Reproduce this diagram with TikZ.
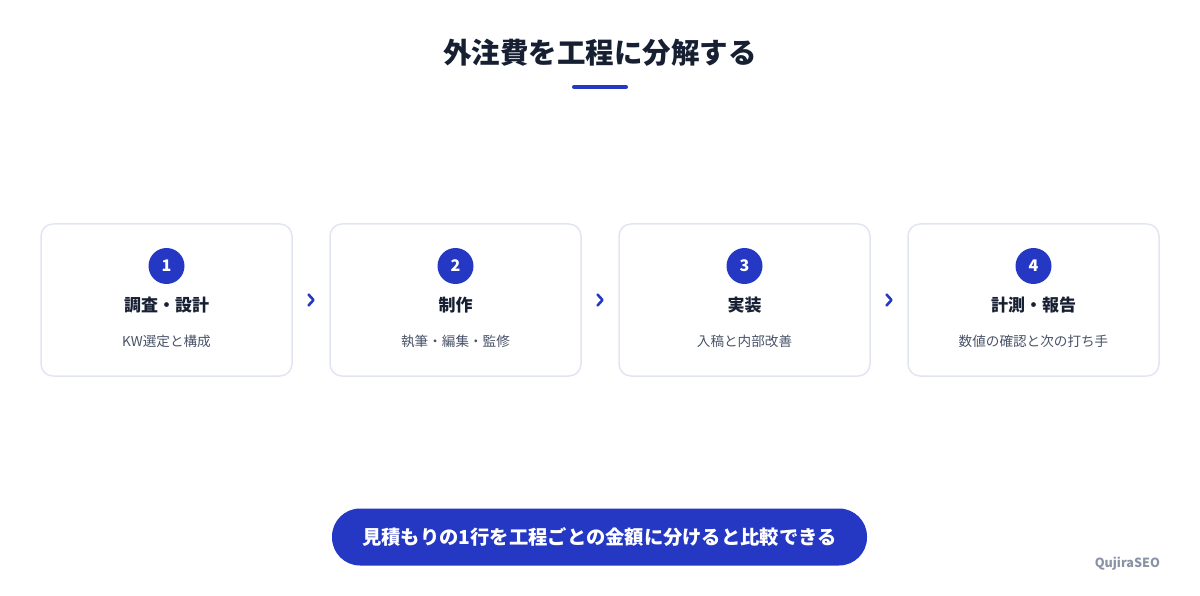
\documentclass[tikz,border=0pt]{standalone}
\usepackage{fontspec}
\setmainfont{Noto Sans CJK JP}
\usetikzlibrary{positioning,calc}
\definecolor{accent}{HTML}{2538C4}
\definecolor{ink}{HTML}{172033}
\definecolor{frame}{HTML}{E2E5F2}
\definecolor{muted}{HTML}{4A5468}
\definecolor{brand}{HTML}{8A93A6}
\tikzset{
  stagebox/.style={draw=frame, line width=1.5pt, rounded corners=12pt, fill=white,
    minimum width=251pt, minimum height=152pt, inner sep=0pt},
  badge/.style={circle, fill=accent, minimum size=36pt, inner sep=0pt,
    text=white, font=\bfseries\fontsize{16}{16}\selectfont},
  stagetitle/.style={text=ink, font=\bfseries\fontsize{17}{17}\selectfont},
  stagenote/.style={text=muted, font=\fontsize{13.6}{13.6}\selectfont},
  chevron/.style={draw=accent, line width=2.6pt, line cap=round, line join=round},
}
\begin{document}
\begin{tikzpicture}[x=1pt, y=-1pt]
\useasboundingbox (0,0) rectangle (1200,596);
% heading
\node[text=ink, font=\bfseries\fontsize{28.5}{28.5}\selectfont] (head) at (600,53) {外注費を工程に分解する};
\draw[accent, line width=4pt, line cap=round] (574,87) -- (626,87);
% stages
\foreach \i/\x/\ttl/\note in {1/166.5/調査・設計/KW選定と構成, 2/455.5/制作/執筆・編集・監修,
                               3/744.5/実装/入稿と内部改善, 4/1033.5/計測・報告/数値の確認と次の打ち手}{
  \node[stagebox] (s\i) at (\x,300) {};
  \node[badge] (b\i) at (\x,266) {\i};
  \node[stagetitle] (t\i) at (\x,305) {\ttl};
  \node[stagenote] (n\i) at (\x,341) {\note};
}
% arrows between stages
\foreach \a/\b in {1/2, 2/3, 3/4}{
  \coordinate (m\a) at ($(s\a.east)!0.5!(s\b.west)$);
  \draw[chevron] ($(m\a)+(-2.5,-5.5)$) -- ($(m\a)+(2.5,0)$) -- ($(m\a)+(-2.5,5.5)$);
}
% summary
\node[fill=accent, rounded corners=28pt, minimum width=535pt, minimum height=57pt,
  text=white, font=\bfseries\fontsize{19.3}{19.3}\selectfont] (sum) at (599.5,537)
  {見積もりの1行を工程ごとの金額に分けると比較できる};
\node[anchor=east, text=brand, font=\bfseries\fontsize{12.6}{12.6}\selectfont] (logo) at (1163.5,564) {QujiraSEO};
\end{tikzpicture}
\end{document}
